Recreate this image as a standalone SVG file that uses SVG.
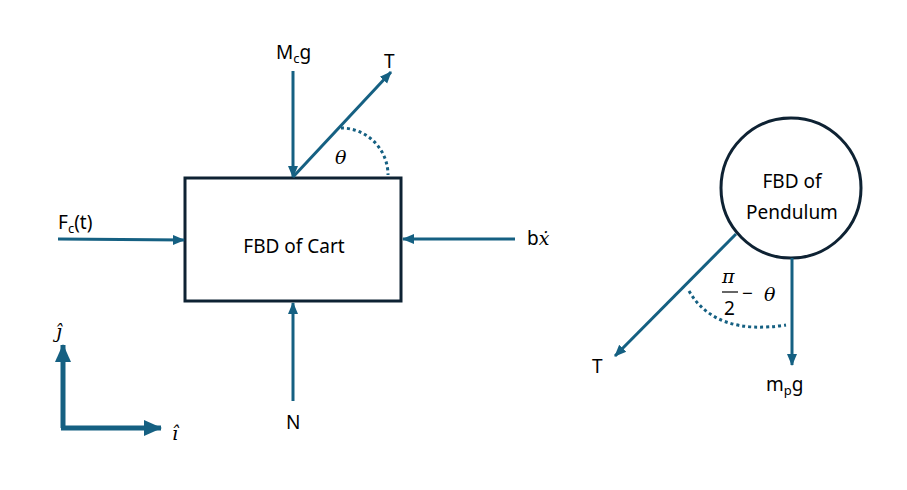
<svg xmlns="http://www.w3.org/2000/svg" width="907" height="490" viewBox="0 0 907 490">
<style>
.f{stroke:#156082;stroke-width:3;fill:none}
.ax{stroke:#156082;stroke-width:5;fill:none}
.dot{stroke:#156082;stroke-width:3;fill:none;stroke-dasharray:3 3}
.box{stroke:#0e2233;stroke-width:3;fill:#fff}
text{font-family:"Noto Sans","Liberation Sans",sans-serif;font-size:19px;fill:#000}
.m{font-family:"DejaVu Serif","Liberation Serif",serif;font-style:italic}
</style>
<defs>
<marker id="ah" markerUnits="userSpaceOnUse" markerWidth="12" markerHeight="12" viewBox="0 0 12 12" refX="11" refY="6" orient="auto">
<path d="M0,1 L12,6 L0,11 Z" fill="#156082"/>
</marker>
<marker id="ahb" markerUnits="userSpaceOnUse" markerWidth="18" markerHeight="18" viewBox="0 0 18 18" refX="17" refY="9" orient="auto">
<path d="M0,1 L18,9 L0,17 Z" fill="#156082"/>
</marker>
</defs>
<rect width="907" height="490" fill="#fff"/>
<g id="cart">
<rect class="box" x="185" y="178" width="216" height="123"/>
<text x="294" y="253" text-anchor="middle" font-size="21">FBD of Cart</text>
</g>
<g id="pendulum">
<circle class="box" cx="791" cy="188" r="70"/>
<text x="792" y="188" text-anchor="middle" font-size="21">FBD of</text>
<text x="792" y="219" text-anchor="middle" font-size="21">Pendulum</text>
</g>
<g id="connectors">
<line class="f" x1="293" y1="71" x2="293" y2="177" marker-end="url(#ah)"/>
<line class="f" x1="293" y1="177" x2="391" y2="72" marker-end="url(#ah)"/>
<path class="dot" d="M341,128 A47,47 0 0 1 388,175"/>
<line class="f" x1="58" y1="239" x2="184" y2="240" marker-end="url(#ah)"/>
<line class="f" x1="515" y1="239" x2="403" y2="239" marker-end="url(#ah)"/>
<line class="f" x1="293" y1="401" x2="293" y2="303" marker-end="url(#ah)"/>
<path class="ax" d="M63,428 V345" marker-end="url(#ahb)"/>
<path class="ax" d="M61,428 H161" marker-end="url(#ahb)"/>
<line class="f" x1="792" y1="258" x2="792" y2="365" marker-end="url(#ah)"/>
<line class="f" x1="736" y1="234" x2="615" y2="356" marker-end="url(#ah)"/>
<path class="dot" d="M689,291 Q715,336 786,325"/>
</g>
<g id="labels">
<text x="276" y="59" font-size="20">M<tspan font-size="13" dy="4">c</tspan><tspan dy="-4">g</tspan></text>
<text x="384" y="68" font-size="20">T</text>
<text class="m" x="335" y="164" font-size="20">θ</text>
<text x="58" y="229" font-size="20">F<tspan font-size="13" dy="4">c</tspan><tspan dy="-4">(t)</tspan></text>
<text x="527" y="245" font-size="20">b<tspan class="m">ẋ</tspan></text>
<text x="286" y="429" font-size="20">N</text>
<text class="m" x="56" y="338" font-size="20">ĵ</text>
<text class="m" x="172" y="440" font-size="20">ı̂</text>
<text x="592" y="373" font-size="20">T</text>
<text x="766" y="391" font-size="20">m<tspan font-size="13" dy="4">p</tspan><tspan dy="-4">g</tspan></text>
<text class="m" x="722" y="283" font-size="19">π</text>
<line x1="722" y1="292" x2="738" y2="292" stroke="#000" stroke-width="1.2"/>
<text x="724" y="315" font-family="Liberation Serif,serif" font-size="20">2</text>
<text x="742" y="300" font-family="DejaVu Sans,sans-serif" font-size="18">−</text>
<text class="m" x="764" y="301" font-size="20">θ</text>
</g>
</svg>
